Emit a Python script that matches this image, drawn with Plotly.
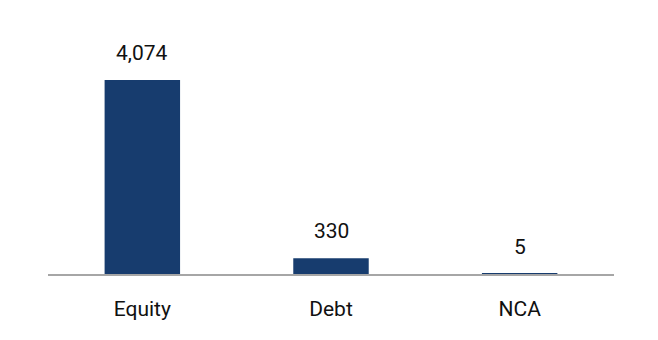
import plotly.graph_objects as go

categories = ["Equity", "Debt", "NCA"]
values = [4074, 330, 5]
value_labels = ["4,074", "330", "5"]

fig = go.Figure(go.Bar(x=categories, y=values, marker=dict(color="#173c6e", line=dict(width=0)),
                       hoverinfo="skip"))

for c, v, t in zip(categories, values, value_labels):
    fig.add_annotation(x=c, y=v, text=t, showarrow=False, yanchor="middle", yshift=27,
                       font=dict(family="Roboto", size=21, color="#111111"))

fig.update_layout(
    width=658, height=340,
    margin=dict(l=48, r=44, t=20, b=66),
    paper_bgcolor="white", plot_bgcolor="white",
    bargap=0.6, showlegend=False,
    font=dict(family="Roboto", size=21, color="#111111"),
)
fig.update_xaxes(showline=True, linecolor="#a6a6a6", linewidth=2, showgrid=False,
                 ticks="", ticklabelstandoff=15,
                 tickfont=dict(family="Roboto", size=21, color="#111111"))
fig.update_yaxes(range=[0, 5334], visible=False, showgrid=False, zeroline=False)

fig.write_html("out.html")
